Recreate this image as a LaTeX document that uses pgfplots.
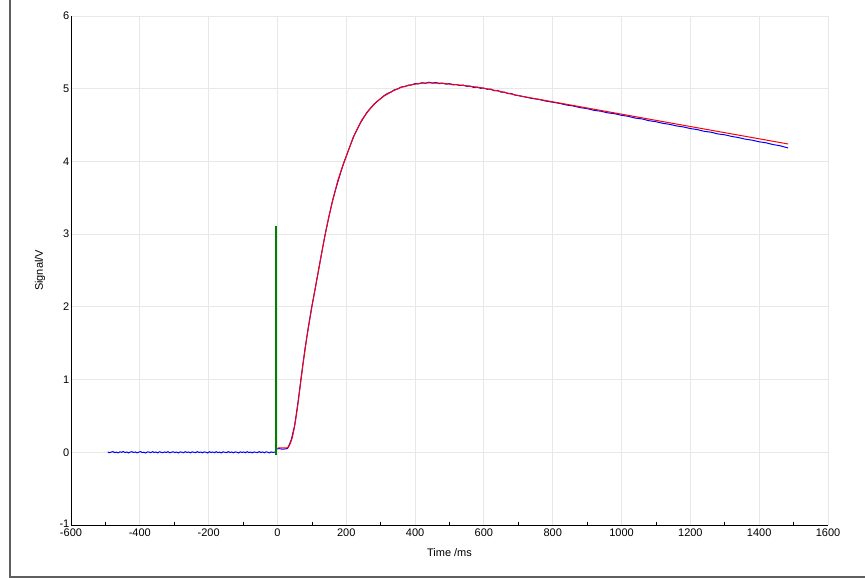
\documentclass[border=0pt]{standalone}
\usepackage{fontspec}
\setmainfont{Liberation Sans}
\usepackage{pgfplots}
\pgfplotsset{compat=1.18}
\definecolor{frame}{RGB}{95,95,95}
\definecolor{gridc}{RGB}{232,232,232}
\definecolor{dgreen}{RGB}{0,128,0}
\begin{document}
\fontsize{11}{13}\selectfont
\begin{tikzpicture}
\path[use as bounding box] (0pt,0pt) rectangle (865pt,578pt);
\draw[line width=1.2pt, frame] (10pt,578pt) -- (10pt,1pt) -- (865pt,1pt);
\begin{axis}[
  at={(71pt,53pt)}, anchor=south west,
  scale only axis, width=757pt, height=509pt,
  xmin=-600, xmax=1600, ymin=-1, ymax=6,
  xtick={-600,-400,...,1600}, ytick={-1,0,...,6},
  minor x tick num=1,
  axis x line*=bottom, axis y line*=left,
  axis line style={black, line width=0.9pt},
  grid=major, major grid style={gridc, line width=0.9pt},
  tick style={black, line width=0.6pt},
  major tick length=0pt, minor tick length=3pt,
  /pgf/number format/assume math mode=true,
  /pgf/number format/1000 sep={},
  ticklabel style={font=\fontsize{11}{13}\selectfont},
  yticklabel style={inner sep=1.5pt},
  xticklabel style={inner sep=3.5pt},
  yticklabels={\raisebox{2pt}{-1},0,1,2,3,4,5,6},
  xlabel={Time /ms}, ylabel={Signal/V},
  label style={font=\fontsize{11}{13}\selectfont},
  every axis x label/.style={at={(axis description cs:0.5,0)}, anchor=center, yshift=-28pt},
  every axis y label/.style={at={(axis description cs:0,0.5)}, anchor=center, rotate=90, yshift=31pt},
]
\addplot[blue, line width=1pt] coordinates {
(-493,0.004) (-488,-0.006) (-483,0.003) (-478,0.009) (-473,-0.004) (-468,0.002) (-463,-0.008) (-458,0.006)
(-453,0.000) (-448,0.010) (-443,-0.005) (-438,0.004) (-433,-0.009) (-428,0.003) (-423,0.008) (-418,-0.003)
(-413,0.005) (-408,-0.007) (-403,0.002) (-398,0.009) (-393,-0.004) (-388,0.001) (-383,-0.010) (-378,0.006)
(-373,0.002) (-368,-0.005) (-363,0.008) (-358,-0.002) (-353,0.004) (-348,-0.008) (-343,0.007) (-338,0.000)
(-333,-0.006) (-328,0.005) (-323,-0.003) (-318,0.009) (-313,-0.007) (-308,0.002) (-303,0.006) (-298,-0.004)
(-293,0.003) (-288,-0.009) (-283,0.005) (-278,0.001) (-273,-0.006) (-268,0.008) (-263,-0.002) (-258,0.004)
(-253,-0.008) (-248,0.006) (-243,0.000) (-238,-0.005) (-233,0.009) (-228,-0.003) (-223,0.003) (-218,-0.007)
(-213,0.005) (-208,0.001) (-203,-0.009) (-198,0.007) (-193,-0.002) (-188,0.004) (-183,-0.006) (-178,0.008)
(-173,-0.004) (-168,0.002) (-163,-0.008) (-158,0.006) (-153,0.000) (-148,-0.005) (-143,0.009) (-138,-0.003)
(-133,0.004) (-128,-0.007) (-123,0.005) (-118,0.001) (-113,-0.009) (-108,0.006) (-103,-0.002) (-98,0.004)
(-93,-0.006) (-88,0.008) (-83,-0.004) (-78,0.003) (-73,-0.008) (-68,0.005) (-63,0.000) (-58,-0.005)
(-53,0.009) (-48,-0.003) (-43,0.004) (-38,-0.007) (-33,0.006) (-28,0.001) (-23,-0.009) (-18,0.005)
(-13,-0.002) (-8,0.003) (-5,-0.006) (-4,0.045) (5,0.05) (15,0.042) (25,0.048) (30,0.055)
(40,0.17) (50,0.37) (60,0.70) (70,1.07) (80,1.42) (90,1.73) (100,2.01)
(110,2.26) (120,2.52) (130,2.78) (140,3.03) (150,3.25) (160,3.46) (170,3.63)
(180,3.79) (190,3.94) (200,4.07) (220,4.33) (240,4.52) (260,4.675) (280,4.785)
(300,4.865) (310,4.905) (320,4.935) (330,4.955) (340,4.985) (350,4.998) (360,5.025) (370,5.028) (380,5.048) (390,5.052) (400,5.07) (410,5.066) (420,5.082)
(430,5.074) (440,5.09) (450,5.076) (460,5.086) (470,5.07) (480,5.078) (490,5.062) (500,5.07) (510,5.052) (520,5.058) (530,5.044) (540,5.05) (550,5.032) (560,5.036)
(570,5.018) (580,5.022) (590,5.006) (600,5.008) (610,4.992) (620,4.996) (630,4.972) (640,4.976) (650,4.952) (660,4.954) (670,4.932) (680,4.934) (690,4.912) (700,4.906)
(720,4.886) (740,4.866) (760,4.852) (780,4.830) (800,4.814) (820,4.798) (840,4.776)
(860,4.762) (880,4.740) (900,4.726) (920,4.703) (940,4.690) (960,4.668) (980,4.656)
(1000,4.634) (1020,4.620) (1040,4.596) (1060,4.584) (1080,4.560) (1100,4.546)
(1120,4.524) (1140,4.510) (1160,4.488) (1180,4.474) (1200,4.452) (1220,4.438)
(1240,4.414) (1260,4.402) (1280,4.378) (1300,4.366) (1320,4.344) (1340,4.328)
(1360,4.306) (1380,4.292) (1400,4.270) (1420,4.256) (1440,4.232) (1460,4.216)
(1484,4.185)
};
\addplot[red, line width=1pt] coordinates {
(1,0.06) (28,0.06) (33,0.08) (38,0.13) (43,0.2) (48,0.31) (53,0.45) (58,0.61)
(63,0.79) (68,0.98) (75,1.24) (85,1.57) (100,2.0) (115,2.39) (125,2.65) (138,2.98)
(150,3.25) (161,3.47) (175,3.73) (194,4.0) (210,4.2) (225,4.38) (245,4.57) (265,4.7)
(288,4.82) (310,4.9) (336,4.97) (360,5.02) (385,5.05) (415,5.075) (443,5.08)
(475,5.075) (510,5.06) (550,5.04) (590,5.015) (620,4.988) (650,4.96) (700,4.905)
(800,4.82) (1000,4.65) (1200,4.48) (1400,4.311) (1484,4.24)
};
\addplot[dgreen, line width=1.9pt] coordinates {(-3,-0.04) (-3,3.11)};
\end{axis}
\end{tikzpicture}
\end{document}
